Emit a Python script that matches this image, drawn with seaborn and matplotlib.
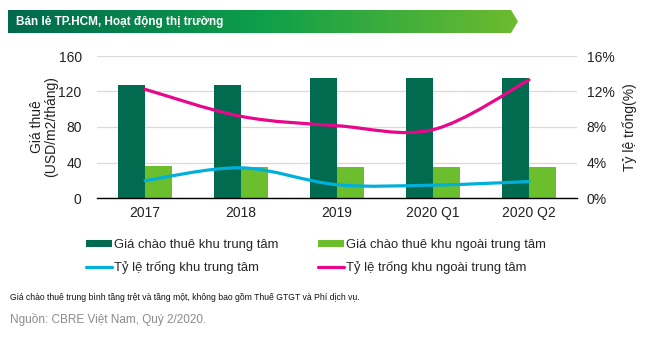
import numpy as np
import pandas as pd
import matplotlib
matplotlib.use("Agg")
import matplotlib.pyplot as plt
import seaborn as sns
from matplotlib.path import Path
from matplotlib.patches import PathPatch, Polygon, Rectangle
from matplotlib.lines import Line2D
from matplotlib import font_manager

periods = ["2017", "2018", "2019", "2020 Q1", "2020 Q2"]
rent_cbd = [127, 127, 135, 135, 135]
rent_noncbd = [36, 35, 35, 35, 35]
vac_cbd = [1.95, 3.4, 1.5, 1.45, 1.85]
vac_noncbd = [12.25, 9.2, 8.15, 7.7, 13.3]
left_ticks = [0, 40, 80, 120, 160]
right_ticks = [0, 4, 8, 12, 16]

C_DARK = "#006B4F"
C_LIGHT = "#6BBE2C"
C_BLUE = "#00B0DB"
C_PINK = "#E8068A"

sns.set_theme(style="white")
plt.rcParams['font.family'] = ['Liberation Sans', 'DejaVu Sans']

names = {f.name for f in font_manager.fontManager.ttflist}
has_narrow = 'Liberation Sans Narrow' in names
NARROW = ['Liberation Sans Narrow', 'Liberation Sans', 'DejaVu Sans'] if has_narrow else ['Liberation Sans', 'DejaVu Sans']

W, H = 654, 338
fig = plt.figure(figsize=(W / 100, H / 100), dpi=100)

def fx(px):
    return px / W

def fy(py):
    return 1 - py / H

# banner
bax = fig.add_axes([0, 0, 1, 1], zorder=0)
bax.set_xlim(0, W)
bax.set_ylim(H, 0)
bax.axis("off")
grad = np.linspace(0, 1, 256).reshape(1, -1)
cmap = matplotlib.colors.LinearSegmentedColormap.from_list("g", ["#00694E", "#0E9F4A", "#6DBB2E"])
im = bax.imshow(grad, cmap=cmap, extent=[8, 518, 33, 10], aspect="auto")
poly = Polygon([[8, 10], [511, 10], [518, 21.5], [511, 33], [8, 33]], closed=True,
               transform=bax.transData, facecolor="none", edgecolor="none")
bax.add_patch(poly)
im.set_clip_path(poly)
bax.text(16, 21.5, "Bán lẻ TP.HCM, Hoạt động thị trường", color="white",
         fontsize=10.3 if has_narrow else 8.5,
         fontweight="bold", va="center", ha="left", family=NARROW)

# main axes
ax = fig.add_axes([fx(97), fy(198), fx(480), 142 / H], zorder=1)
df = pd.DataFrame({
    "period": periods * 2,
    "rent": rent_cbd + rent_noncbd,
    "series": ["Giá chào thuê khu trung tâm"] * 5 + ["Giá chào thuê khu ngoài trung tâm"] * 5,
})
sns.barplot(data=df, x="period", y="rent", hue="series", order=periods,
            palette=[C_DARK, C_LIGHT], width=0.57, gap=0, ax=ax, legend=False,
            saturation=1, edgecolor="none")
ax.set_xlim(-0.5, len(periods) - 0.5)
ax.set_ylim(0, 160)
ax.set_yticks(left_ticks)
ax.set_yticklabels([str(t) for t in left_ticks])
ax.yaxis.grid(True, color="#D9D9D9", linewidth=0.9)
ax.set_axisbelow(True)
for s in ["top", "right", "left"]:
    ax.spines[s].set_visible(False)
ax.spines["bottom"].set_color("black")
ax.spines["bottom"].set_linewidth(1.0)
ax.tick_params(axis="both", length=0, labelsize=10, colors="#222222", pad=6)
ax.tick_params(axis="y", pad=11)
ax.set_xlabel("")
ax.set_ylabel("Giá thuê\n(USD/m2/tháng)", fontsize=10, color="#222222",
              linespacing=1.0)
ax.yaxis.set_label_coords((58 - 97) / 480, 0.5)

ax2 = ax.twinx()
ax2.set_ylim(0, 16)
ax2.set_yticks(right_ticks)
ax2.set_yticklabels([f"{t}%" for t in right_ticks])
for s in ["top", "right", "left", "bottom"]:
    ax2.spines[s].set_visible(False)
ax2.tick_params(axis="y", length=0, labelsize=10, colors="#222222", pad=7)
ax2.set_ylabel("Tỷ lệ trống(%)", fontsize=10, color="#222222")
ax2.yaxis.set_label_coords((622 - 97) / 480, 0.5)
ax2.grid(False)


def smooth_path(xs, ys, tension=0.5):
    xs = np.asarray(xs, float)
    ys = np.asarray(ys, float)
    n = len(xs)
    verts = [(xs[0], ys[0])]
    codes = [Path.MOVETO]
    for i in range(n - 1):
        x0, y0 = (xs[i - 1], ys[i - 1]) if i > 0 else (xs[i], ys[i])
        x1, y1 = xs[i], ys[i]
        x2, y2 = xs[i + 1], ys[i + 1]
        x3, y3 = (xs[i + 2], ys[i + 2]) if i + 2 < n else (xs[i + 1], ys[i + 1])
        c1 = (x1 + (x2 - x0) * tension / 3, y1 + (y2 - y0) * tension / 3)
        c2 = (x2 - (x3 - x1) * tension / 3, y2 - (y3 - y1) * tension / 3)
        verts += [c1, c2, (x2, y2)]
        codes += [Path.CURVE4] * 3
    return Path(verts, codes)


xpos = np.arange(len(periods))
for vals, col in [(vac_cbd, C_BLUE), (vac_noncbd, C_PINK)]:
    p = smooth_path(xpos, vals, tension=0.5)
    ax2.add_patch(PathPatch(p, facecolor="none", edgecolor=col, linewidth=2.3,
                            capstyle="round", zorder=5))

# legend
handles = [
    Rectangle((0, 0), 1, 1, facecolor=C_DARK, edgecolor="none"),
    Line2D([0], [0], color=C_BLUE, linewidth=2.3),
    Rectangle((0, 0), 1, 1, facecolor=C_LIGHT, edgecolor="none"),
    Line2D([0], [0], color=C_PINK, linewidth=2.3),
]
labels = ["Giá chào thuê khu trung tâm", "Tỷ lệ trống khu trung tâm",
          "Giá chào thuê khu ngoài trung tâm", "Tỷ lệ trống khu ngoài trung tâm"]
fig.legend(handles, labels, ncol=2, loc="upper left", bbox_to_anchor=(fx(86), fy(239)),
           frameon=False, fontsize=9.4, handlelength=2.0, handleheight=0.45,
           handletextpad=0.15, columnspacing=3.0, labelspacing=0.75,
           borderaxespad=0, borderpad=0)

fig.text(fx(10), fy(298), "Giá chào thuê trung bình tầng trệt và tầng một, không bao gồm Thuế GTGT và Phí dịch vụ.",
         fontsize=7.6 if has_narrow else 6.2, color="#111111", va="center", ha="left", family=NARROW)
fig.text(fx(10), fy(319), "Nguồn: CBRE Việt Nam, Quý 2/2020.", fontsize=10 if has_narrow else 8.5,
         color="#8C8C8C", va="center", ha="left", family=NARROW)

fig.savefig("out.png", dpi=100)
